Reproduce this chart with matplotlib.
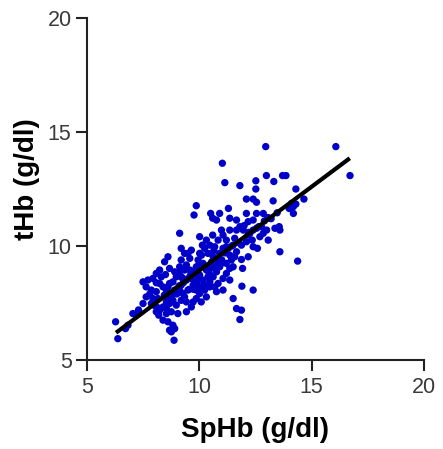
"""SpHb vs tHb scatter with regression line."""

import matplotlib

matplotlib.use("Agg")
import matplotlib.pyplot as plt
import numpy as np

# SpHb (x) and tHb (y), g/dl
sphb = [
    12.96, 16.08, 16.71, 11.03, 11.14, 11.81, 12.52, 12.52, 12.99, 13.32,
    13.71, 13.86, 14.30, 14.66, 13.29, 12.10, 12.40, 12.55, 14.11, 14.19,
    14.00, 14.30, 13.47, 9.87, 9.77, 10.51, 10.91, 11.36, 11.30, 10.60,
    12.10, 12.18, 12.85, 13.14, 9.13, 13.56, 13.37, 12.55, 12.77, 10.02,
    10.60, 10.84, 11.06, 11.36, 11.58, 12.18, 12.36, 12.70, 12.59, 12.18,
    13.59, 14.38, 11.88, 11.66, 11.36, 11.51, 11.93, 10.99, 11.36, 11.90,
    12.40, 11.51, 11.66, 11.88, 11.81, 11.06, 10.77,
    6.28, 6.38, 6.83, 6.72, 7.20, 7.05, 7.50, 7.64, 7.50, 7.72,
    7.94, 8.09, 8.31, 7.64, 7.87, 8.09, 8.16, 8.09, 8.20, 8.39,
    8.61, 8.83, 8.91, 8.76, 8.68, 8.88, 8.39, 8.54, 8.61, 8.68,
    8.83, 8.98, 8.54, 8.61, 8.83, 8.39, 8.61, 8.68, 8.91, 8.98,
    9.13, 9.20, 9.35, 9.50, 9.58, 9.65, 9.20, 9.43, 9.35, 9.20,
    9.43, 9.65, 9.80, 9.87, 9.95, 10.17, 10.32, 10.02, 10.17, 10.39,
    10.47, 10.62, 10.77, 10.91, 10.77, 10.62, 10.39, 10.24, 10.47, 10.69,
    10.91, 11.06, 11.21, 10.02, 9.73, 9.50, 9.28, 9.13, 9.20, 9.87,
    10.02, 9.87, 9.73, 9.65, 9.43, 10.02, 10.24, 10.47, 10.69, 10.84,
    11.06, 11.21, 11.36, 11.43, 11.58, 11.21, 10.32, 10.09, 8.46, 8.24,
    8.09, 8.83, 8.24, 7.94, 7.87, 8.24, 8.54, 8.76, 9.05, 8.54,
    9.43, 9.20, 9.35, 11.81, 11.96, 11.66, 11.88, 12.10, 12.40, 11.21,
    11.51, 11.66, 12.40, 12.85, 13.00, 13.07, 13.59, 12.40, 12.55, 14.19,
    10.77, 10.99, 9.58, 9.13, 8.91, 8.68, 10.14, 10.32, 9.70, 10.00,
    10.30, 10.55, 9.90, 10.20, 10.45, 9.60, 9.30, 9.75, 10.10, 10.65,
    11.00, 11.30, 12.00, 12.20, 12.90, 13.20, 8.00, 7.80, 9.00, 9.55,
    7.30, 7.95, 8.15, 8.45, 8.75, 9.10, 9.45, 9.85, 10.40, 10.75,
    11.15, 11.45, 11.75, 12.25, 12.65, 13.05, 8.50, 9.25, 9.95, 10.60,
]
thb = [
    14.36, 14.36, 13.09, 13.63, 12.78, 12.65, 12.86, 12.50, 13.09, 12.83,
    13.09, 13.09, 12.50, 12.06, 11.98, 12.06, 12.06, 11.92, 11.87, 11.73,
    11.65, 11.84, 11.46, 11.77, 11.36, 11.43, 11.43, 11.22, 11.65, 11.22,
    11.43, 11.07, 11.43, 11.22, 10.56, 10.85, 10.78, 10.78, 10.85, 10.41,
    10.48, 10.26, 10.48, 10.70, 10.34, 10.48, 10.26, 10.41, 9.90, 9.53,
    9.75, 9.34, 9.41, 9.75, 9.60, 9.09, 9.02, 9.24, 8.51, 8.24,
    8.07, 7.70, 7.26, 7.19, 6.78, 8.07, 8.00,
    6.68, 5.94, 6.53, 6.38, 6.97, 7.04, 7.48, 7.77, 8.43, 8.51,
    8.58, 8.39, 8.65, 8.21, 8.07, 8.00, 7.70, 7.12, 6.97, 6.75,
    6.68, 6.53, 6.38, 6.24, 6.31, 5.87, 7.33, 7.55, 7.77, 7.48,
    7.62, 7.41, 8.07, 8.21, 7.92, 8.21, 9.53, 9.02, 8.87, 8.65,
    9.09, 9.90, 9.68, 9.68, 9.46, 9.82, 9.39, 9.17, 8.95, 8.65,
    8.51, 8.58, 8.80, 9.09, 9.39, 9.24, 8.95, 8.73, 8.51, 8.65,
    8.43, 8.65, 8.87, 9.09, 9.39, 9.53, 9.68, 9.90, 10.04, 9.97,
    9.68, 9.90, 9.97, 9.68, 8.29, 8.07, 7.92, 8.07, 8.29, 8.07,
    7.92, 7.70, 7.55, 7.33, 7.12, 8.21, 8.07, 8.21, 8.21, 8.36,
    8.58, 8.80, 9.02, 9.39, 9.53, 9.24, 7.77, 7.55, 9.31, 8.95,
    8.80, 8.43, 8.36, 7.70, 7.48, 7.19, 7.04, 7.12, 7.04, 7.26,
    7.55, 7.62, 7.77, 10.85, 10.70, 10.70, 10.04, 10.19, 9.97, 10.26,
    10.04, 11.14, 10.70, 10.56, 10.70, 10.26, 10.70, 11.14, 11.43, 11.43,
    11.14, 10.70, 8.95, 8.87, 8.07, 8.36, 10.04, 10.26, 8.90, 9.20,
    9.00, 9.30, 8.40, 8.30, 8.80, 8.70, 8.40, 8.10, 9.60, 9.80,
    9.40, 9.90, 10.90, 10.60, 11.10, 11.20, 7.40, 7.90, 7.90, 8.10,
    7.20, 7.45, 7.30, 7.85, 7.75, 8.25, 8.55, 8.45, 9.10, 9.15,
    9.70, 10.00, 10.15, 10.55, 10.85, 11.25, 8.75, 8.60, 8.55, 9.05,
]

# regression line end points
fit_x = [6.3, 16.7]
fit_y = [6.2, 13.85]

plt.rcParams["font.family"] = ["Liberation Sans", "DejaVu Sans"]

fig = plt.figure(figsize=(4.43, 4.49), dpi=100)
ax = fig.add_axes([0.196, 0.198, 0.761, 0.762])

ax.scatter(sphb, thb, s=28, color="#0000c8", edgecolors="none", zorder=2)
ax.plot(fit_x, fit_y, color="black", linewidth=3, solid_capstyle="butt", zorder=3)

ax.set_xlim(5, 20)
ax.set_ylim(5, 20)
ax.set_xticks([5, 10, 15, 20])
ax.set_yticks([5, 10, 15, 20])
for side in ("top", "right"):
    ax.spines[side].set_visible(False)
for side in ("left", "bottom"):
    ax.spines[side].set_linewidth(1.5)
    ax.spines[side].set_color("#222222")
ax.tick_params(length=8, width=1.5, color="#222222", labelsize=15.5,
               labelcolor="#3a3a3a")
ax.tick_params(axis="x", pad=4)
ax.tick_params(axis="y", pad=3)

ax.set_xlabel("SpHb (g/dl)", fontsize=20, fontweight="bold", labelpad=14)
ax.set_ylabel("tHb (g/dl)", fontsize=20, fontweight="bold")
ax.yaxis.set_label_coords(-0.14, 0.53)

fig.savefig("out.png", dpi=100)
plt.close(fig)
